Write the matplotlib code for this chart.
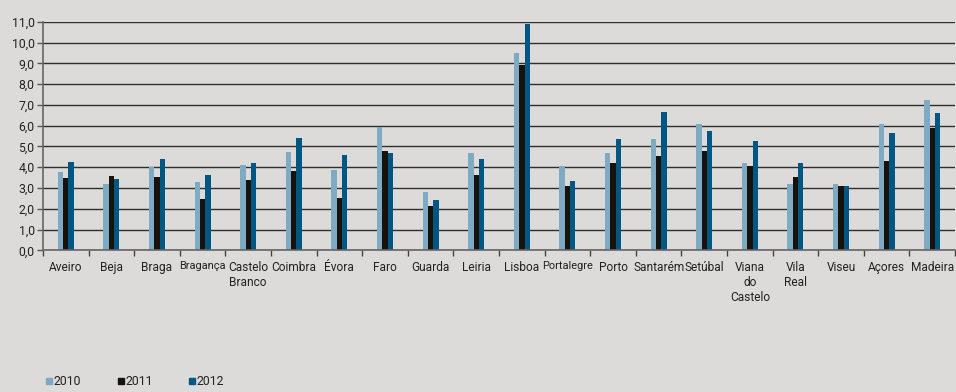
import numpy as np
import matplotlib
matplotlib.use("Agg")
import matplotlib.pyplot as plt
from matplotlib.lines import Line2D
from matplotlib.ticker import FuncFormatter

plt.rcParams['font.family'] = ['Roboto', 'DejaVu Sans']

# districts / regions
categories = ["Aveiro", "Beja", "Braga", "Bragança", "Castelo\nBranco", "Coimbra",
              "Évora", "Faro", "Guarda", "Leiria", "Lisboa", "Portalegre", "Porto",
              "Santarém", "Setúbal", "Viana\ndo\nCastelo", "Vila\nReal", "Viseu",
              "Açores", "Madeira"]

v2010 = [3.77, 3.19, 4.01, 3.29, 4.10, 4.73, 3.86, 5.93, 2.81, 4.68,
         9.49, 4.06, 4.68, 5.36, 6.08, 4.20, 3.19, 3.19, 6.08, 7.23]
v2011 = [3.48, 3.58, 3.53, 2.47, 3.39, 3.82, 2.52, 4.78, 2.13, 3.62,
         8.92, 3.10, 4.20, 4.54, 4.78, 4.06, 3.53, 3.10, 4.30, 5.89]
v2012 = [4.25, 3.43, 4.39, 3.62, 4.20, 5.40, 4.59, 4.68, 2.42, 4.39,
         10.89, 3.34, 5.36, 6.66, 5.74, 5.26, 4.20, 3.10, 5.64, 6.61]

series = [("2010", v2010, "#7faac3"), ("2011", v2011, "#17120b"), ("2012", v2012, "#005784")]

bg = "#dcdbda"
fig = plt.figure(figsize=(9.56, 3.92), dpi=100, facecolor=bg)
ax = fig.add_axes([0.045, 0.3615, 0.954, 0.583])
ax.set_facecolor(bg)

x = np.arange(len(categories))
w = 0.117
for i, (name, vals, col) in enumerate(series):
    ax.bar(x + (i - 1) * w, vals, width=w, color=col, zorder=3, linewidth=0)

ax.set_xlim(-0.5, len(categories) - 0.5)
ax.set_ylim(0, 11)
ax.set_yticks(np.arange(0, 12, 1))
ax.yaxis.set_major_formatter(FuncFormatter(lambda v, p: f"{v:.1f}".replace(".", ",")))
ax.grid(axis="y", color="#2e2e2e", lw=1.0, zorder=1)

ax.set_xticks(x)
ax.set_xticklabels(categories, fontsize=8.6, color="#222222", linespacing=1.2)
for lbl in ax.get_xticklabels():
    if lbl.get_text() in ("Bragança", "Portalegre"):
        lbl.set_fontsize(7.9)
ax.set_xticks(np.arange(-0.5, len(categories), 1), minor=True)
ax.tick_params(axis="x", which="major", length=0, pad=8)
ax.tick_params(axis="x", which="minor", length=4, color="#444444", width=1, direction="out")
ax.tick_params(axis="y", length=4, color="#555555", width=1, labelsize=8.8, labelcolor="#222222", pad=2)

for s in ["top", "right"]:
    ax.spines[s].set_visible(False)
for s in ["left", "bottom"]:
    ax.spines[s].set_color("#666666")
    ax.spines[s].set_linewidth(1.2)
    ax.spines[s].set_zorder(4)

handles = [Line2D([0], [0], marker="s", color="none", markerfacecolor=c, markeredgecolor=c,
                  markersize=4, label=n) for n, _, c in series]
fig.legend(handles=handles, loc="lower left", bbox_to_anchor=(0.036, -0.018), ncol=3,
           frameon=False, fontsize=8.8, handlelength=0.6, handletextpad=0.1,
           columnspacing=2.9, labelcolor="#222222")

fig.savefig("out.png", dpi=100, facecolor=bg)
